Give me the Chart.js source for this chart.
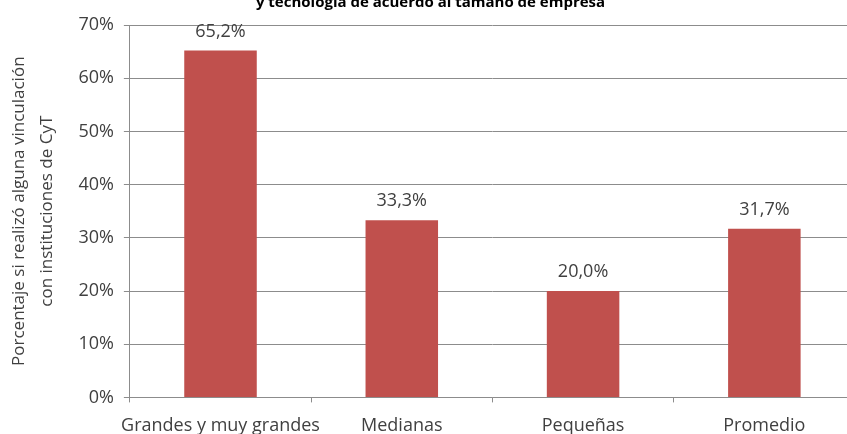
<!DOCTYPE html>
<html>
<head>
<meta charset="utf-8">
<script src="https://cdn.jsdelivr.net/npm/chart.js@4.4.1/dist/chart.umd.min.js"></script>
<style>
  html, body { margin: 0; padding: 0; background: #fff; overflow: hidden; }
  #wrap { position: relative; width: 847px; height: 434px; overflow: hidden; }
  #chart { position: absolute; left: 0; top: -6px; }
</style>
</head>
<body>
<div id="wrap"><canvas id="chart" width="860" height="462"></canvas></div>
<script>
const categories = ["Grandes y muy grandes", "Medianas", "Pequeñas", "Promedio"];
const values = [65.2, 33.3, 20.0, 31.7];
const yTicks = [0, 10, 20, 30, 40, 50, 60, 70];

const textColor = "#404040";
const gridColor = "#8c8c8c";

// labels above each bar, written with a decimal comma
const barLabels = {
  id: "barLabels",
  afterDatasetsDraw(chart) {
    const ctx = chart.ctx;
    const meta = chart.getDatasetMeta(0);
    ctx.save();
    ctx.font = "18px 'Open Sans'";
    ctx.fillStyle = textColor;
    ctx.textAlign = "center";
    ctx.textBaseline = "middle";
    meta.data.forEach((bar, i) => {
      const txt = values[i].toFixed(1).replace(".", ",") + "%";
      ctx.fillText(txt, bar.x, bar.y - 19);
    });
    ctx.restore();
  },
};

new Chart(document.getElementById("chart"), {
  type: "bar",
  data: {
    labels: categories,
    datasets: [
      {
        data: values,
        backgroundColor: "#c0504d",
        barPercentage: 0.4,
        categoryPercentage: 1,
      },
    ],
  },
  options: {
    responsive: false,
    animation: false,
    devicePixelRatio: 1,
    layout: { padding: { left: 6, right: 5, top: 0, bottom: 6 } },
    plugins: {
      legend: { display: false },
      tooltip: { enabled: false },
      title: {
        display: true,
        text: "y tecnología de acuerdo al tamaño de empresa",
        color: "#000",
        font: { family: "'Open Sans'", size: 15, weight: "bold", lineHeight: 1.2 },
        padding: { top: 0, bottom: 13 },
      },
    },
    scales: {
      x: {
        grid: {
          display: true,
          drawOnChartArea: false,
          color: gridColor,
          tickLength: 5,
        },
        border: { color: gridColor },
        ticks: {
          color: textColor,
          font: { family: "'Open Sans'", size: 18 },
          padding: 13,
          maxRotation: 0,
          autoSkip: false,
        },
      },
      y: {
        min: 0,
        max: 70,
        afterBuildTicks: (axis) => {
          axis.ticks = yTicks.map((v) => ({ value: v }));
        },
        grid: { color: gridColor, tickLength: 6 },
        border: { color: gridColor },
        ticks: {
          color: textColor,
          font: { family: "'Open Sans'", size: 18 },
          padding: 10,
          callback: (v) => v + "%",
        },
        title: {
          display: true,
          text: ["Porcentaje si realizó alguna vinculación", "con instituciones de CyT"],
          color: textColor,
          font: { family: "'Open Sans'", size: 17, lineHeight: 1.6 },
          padding: { top: 0, bottom: 8 },
        },
      },
    },
  },
  plugins: [barLabels],
});
</script>
</body>
</html>
